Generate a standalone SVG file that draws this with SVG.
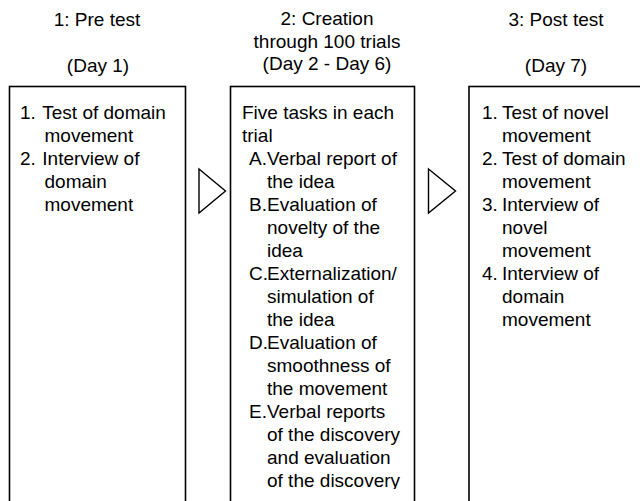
<svg xmlns="http://www.w3.org/2000/svg" width="640" height="501" viewBox="0 0 640 501">
<style>
text{font-family:"Liberation Sans",Arial,Helvetica,sans-serif;font-size:19px;fill:#000}
.t{text-anchor:middle}
.box{fill:#fff;stroke:#000;stroke-width:1.6}
.arr{fill:#fff;stroke:#000;stroke-width:1.4;stroke-linejoin:miter}
</style>
<defs>
<clipPath id="clipMid"><rect x="230" y="86" width="186" height="403"/></clipPath>
</defs>
<rect width="640" height="501" fill="#fff"/>
<g id="pretest">
<text class="t" x="97" y="26">1: Pre test</text>
<text class="t" x="98" y="72">(Day 1)</text>
<rect class="box" x="9.5" y="86.5" width="176" height="430"/>
<text x="20" y="119">1.</text><text x="42.3" y="119">Test of domain</text>
<text x="44.5" y="142">movement</text>
<text x="20" y="165">2.</text><text x="42.3" y="165">Interview of</text>
<text x="44.5" y="188">domain</text>
<text x="44.5" y="211">movement</text>
</g>
<g id="creation">
<text class="t" x="327" y="25">2: Creation</text>
<text class="t" x="327" y="47.5">through 100 trials</text>
<text class="t" x="327" y="70">(Day 2 - Day 6)</text>
<rect class="box" x="230.5" y="86.5" width="184" height="430"/>
<g clip-path="url(#clipMid)">
<text x="242" y="119">Five tasks in each</text>
<text x="242" y="142">trial</text>
<text x="249" y="165">A.</text><text x="267" y="165">Verbal report of</text>
<text x="267" y="188">the idea</text>
<text x="249" y="211">B.</text><text x="267" y="211">Evaluation of</text>
<text x="267" y="234">novelty of the</text>
<text x="267" y="257">idea</text>
<text x="249" y="280">C.</text><text x="267" y="280">Externalization/</text>
<text x="267" y="303">simulation of</text>
<text x="267" y="326">the idea</text>
<text x="249" y="349">D.</text><text x="267" y="349">Evaluation of</text>
<text x="267" y="372">smoothness of</text>
<text x="267" y="395">the movement</text>
<text x="249" y="418">E.</text><text x="267" y="418">Verbal reports</text>
<text x="267" y="441">of the discovery</text>
<text x="267" y="464">and evaluation</text>
<text x="267" y="487">of the discovery</text>
</g>
</g>
<g id="posttest">
<text class="t" x="556" y="26">3: Post test</text>
<text class="t" x="556" y="72">(Day 7)</text>
<rect class="box" x="469" y="86.5" width="190" height="430"/>
<text x="482" y="119">1.</text><text x="502" y="119">Test of novel</text>
<text x="502" y="142">movement</text>
<text x="482" y="165">2.</text><text x="502" y="165">Test of domain</text>
<text x="502" y="188">movement</text>
<text x="482" y="211">3.</text><text x="502" y="211">Interview of</text>
<text x="502" y="234">novel</text>
<text x="502" y="257">movement</text>
<text x="482" y="280">4.</text><text x="502" y="280">Interview of</text>
<text x="502" y="303">domain</text>
<text x="502" y="326">movement</text>
</g>
<g id="connectors">
<polygon class="arr" points="199,169 225.5,191 199,213"/>
<polygon class="arr" points="428.5,169 455.5,191 428.5,213"/>
</g>
</svg>
